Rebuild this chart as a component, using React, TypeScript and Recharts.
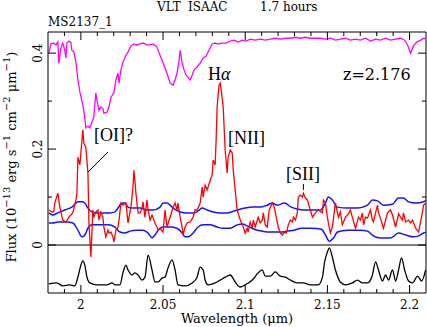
import React from "react";
import { ComposedChart, Line, XAxis, YAxis, ReferenceLine, ReferenceArea } from "recharts";

const W = 427;
const H = 327;
const PLOT_W = 378;
const PLOT_H = 261;
const AXIS_FONT = "'DejaVu Serif', serif";
const LINE_FONT = "'Liberation Serif', serif";

// observed spectrum (red)
const specWave = [
  1.9805, 1.9823, 1.9835, 1.9841, 1.986, 1.9872, 1.989, 1.9909, 1.9927, 1.9951,
  1.997, 1.9976, 1.9982, 1.9994, 2.0, 2.0012, 2.0018, 2.003, 2.0043, 2.0049,
  2.0061, 2.0073, 2.0079, 2.0091, 2.0104, 2.011, 2.0122, 2.0134, 2.014, 2.0152,
  2.0165, 2.0171, 2.0183, 2.0195, 2.0201, 2.0213, 2.0226, 2.0232, 2.0244, 2.0256,
  2.0274, 2.0287, 2.0293, 2.0305, 2.0317, 2.0323, 2.0335, 2.0348, 2.036, 2.0372,
  2.0378, 2.039, 2.0402, 2.0409, 2.0421, 2.0433, 2.0451, 2.0463, 2.047, 2.0482,
  2.05, 2.0512, 2.0524, 2.0543, 2.0561, 2.0573, 2.0585, 2.0591, 2.0604, 2.0616,
  2.0622, 2.0634, 2.0646, 2.0665, 2.0683, 2.0695, 2.0707, 2.0726, 2.0738, 2.0744,
  2.0756, 2.0768, 2.0774, 2.0787, 2.0799, 2.0805, 2.0817, 2.0823, 2.0829, 2.0841,
  2.0848, 2.0854, 2.0866, 2.0878, 2.089, 2.0896, 2.0909, 2.0921, 2.0927, 2.0939,
  2.0951, 2.097, 2.0988, 2.1, 2.1012, 2.1018, 2.103, 2.1043, 2.1049, 2.1061,
  2.1079, 2.1091, 2.1104, 2.111, 2.1122, 2.1134, 2.1146, 2.1159, 2.1165, 2.1177,
  2.1189, 2.1201, 2.1213, 2.1226, 2.1238, 2.125, 2.1262, 2.1274, 2.1287, 2.1293,
  2.1305, 2.1317, 2.1323, 2.1335, 2.1348, 2.1354, 2.1366, 2.1378, 2.1384, 2.1396,
  2.1409, 2.1427, 2.1445, 2.147, 2.1476, 2.1488, 2.15, 2.1506, 2.1518, 2.153,
  2.1549, 2.1567, 2.1579, 2.1591, 2.161, 2.1628, 2.164, 2.1652, 2.1671, 2.1689,
  2.1701, 2.1713, 2.172, 2.1732, 2.1744, 2.1762, 2.1774, 2.178, 2.1793, 2.1805,
  2.1811, 2.1823, 2.1841, 2.1854, 2.1866, 2.1884, 2.1896, 2.1915, 2.1933, 2.1945,
  2.1957, 2.1963, 2.1976, 2.1994, 2.2006, 2.2018, 2.2037, 2.2055, 2.2067, 2.2079,
  2.2085, 2.2098,
];
const specFlux = [
  0.073, 0.069, 0.069, 0.0875, 0.108, 0.079, 0.052, 0.048, 0.058, 0.067,
  0.094, 0.108, 0.183, 0.167, 0.192, 0.24, 0.2125, 0.204, 0.15, 0.046,
  -0.025, 0.073, 0.058, 0.069, 0.073, 0.052, 0.069, 0.058, 0.0375, 0.017,
  0.031, 0.025, 0.027, 0.017, 0.006, 0.031, 0.0375, 0.052, 0.0875, 0.083,
  0.0875, 0.046, 0.058, 0.079, 0.121, 0.156, 0.108, 0.067, 0.067, 0.077,
  0.09, 0.058, 0.094, 0.073, 0.052, 0.0625, 0.046, 0.0375, 0.031, 0.035,
  0.027, 0.073, 0.0375, 0.058, 0.079, 0.0875, 0.073, 0.0875, 0.058, 0.0375,
  0.021, 0.0375, 0.046, 0.048, 0.058, 0.073, 0.073, 0.0875, 0.121, 0.1,
  0.125, 0.115, 0.121, 0.135, 0.146, 0.177, 0.167, 0.219, 0.2875, 0.333,
  0.3375, 0.323, 0.2875, 0.198, 0.15, 0.183, 0.198, 0.192, 0.156, 0.115,
  0.073, 0.052, 0.0375, 0.025, 0.035, 0.027, 0.048, 0.035, 0.052, 0.0375,
  0.058, 0.046, 0.052, 0.067, 0.042, 0.0375, 0.073, 0.083, 0.0875, 0.079,
  0.058, 0.0375, 0.025, 0.021, 0.027, 0.025, 0.042, 0.052, 0.048, 0.058,
  0.052, 0.067, 0.1, 0.104, 0.1, 0.108, 0.098, 0.094, 0.0875, 0.073,
  0.058, 0.067, 0.073, 0.067, 0.094, 0.0875, 0.058, 0.046, 0.025, 0.0375,
  0.0875, 0.058, 0.069, 0.042, 0.058, 0.065, 0.073, 0.058, 0.035, 0.058,
  0.052, 0.067, 0.042, 0.058, 0.056, 0.073, 0.052, 0.048, 0.067, 0.083,
  0.067, 0.056, 0.035, 0.052, 0.067, 0.073, 0.0625, 0.0375, 0.065, 0.058,
  0.052, 0.067, 0.048, 0.052, 0.046, 0.052, 0.035, 0.027, 0.048, 0.069,
  0.083, 0.0875,
];

// atmospheric transmission (magenta, scaled)
const atmWave = [
  1.9805, 1.9817, 1.9835, 1.9848, 1.986, 1.9866, 1.9878, 1.989, 1.9902, 1.9909,
  1.9915, 1.9927, 1.9939, 1.9945, 1.9957, 1.997, 1.9982, 1.9994, 2.0012, 2.0024,
  2.003, 2.0043, 2.0055, 2.0067, 2.0079, 2.0091, 2.0098, 2.011, 2.0122, 2.0134,
  2.014, 2.0159, 2.0171, 2.0183, 2.0201, 2.0213, 2.0226, 2.0232, 2.0244, 2.0256,
  2.0274, 2.0287, 2.0305, 2.0323, 2.0341, 2.036, 2.0378, 2.0402, 2.0421, 2.0439,
  2.0463, 2.0476, 2.0494, 2.0512, 2.0524, 2.0543, 2.0561, 2.0573, 2.0585, 2.0598,
  2.0604, 2.0616, 2.0628, 2.064, 2.0652, 2.0665, 2.0677, 2.0689, 2.0707, 2.0726,
  2.0744, 2.0762, 2.078, 2.0799, 2.0817, 2.0835, 2.086, 2.0884, 2.0909, 2.0933,
  2.0957, 2.0982, 2.1006, 2.103, 2.1061, 2.1091, 2.1122, 2.1152, 2.1183, 2.1213,
  2.1244, 2.1274, 2.1305, 2.1335, 2.1366, 2.1396, 2.1427, 2.1457, 2.1488, 2.1518,
  2.1549, 2.1579, 2.161, 2.164, 2.1671, 2.1701, 2.1732, 2.1762, 2.1793, 2.1823,
  2.1854, 2.1884, 2.1915, 2.1945, 2.197, 2.1988, 2.2006, 2.2024, 2.2043, 2.2067,
  2.2085, 2.2104,
];
const atmFlux = [
  0.4, 0.419, 0.421, 0.417, 0.423, 0.379, 0.41, 0.421, 0.406, 0.39,
  0.421, 0.425, 0.423, 0.406, 0.402, 0.381, 0.344, 0.319, 0.292, 0.265,
  0.244, 0.248, 0.244, 0.256, 0.267, 0.317, 0.302, 0.281, 0.2875, 0.285,
  0.275, 0.277, 0.2875, 0.308, 0.317, 0.344, 0.358, 0.3375, 0.365, 0.381,
  0.396, 0.402, 0.415, 0.419, 0.417, 0.419, 0.421, 0.417, 0.417, 0.419,
  0.4125, 0.4, 0.385, 0.369, 0.358, 0.3375, 0.333, 0.344, 0.358, 0.385,
  0.406, 0.379, 0.365, 0.354, 0.35, 0.344, 0.354, 0.365, 0.371, 0.379,
  0.39, 0.394, 0.406, 0.419, 0.421, 0.419, 0.421, 0.421, 0.425, 0.427,
  0.423, 0.427, 0.425, 0.429, 0.427, 0.429, 0.427, 0.429, 0.431, 0.429,
  0.431, 0.431, 0.433, 0.431, 0.433, 0.431, 0.431, 0.431, 0.429, 0.431,
  0.427, 0.429, 0.431, 0.427, 0.429, 0.427, 0.431, 0.425, 0.429, 0.427,
  0.431, 0.427, 0.429, 0.431, 0.427, 0.417, 0.4, 0.415, 0.423, 0.427,
  0.431, 0.429,
];

// noise envelope (blue)
const errHiWave = [
  1.9805, 1.9829, 1.986, 1.9902, 1.9945, 1.9982, 2.0006, 2.0024, 2.0043, 2.0067,
  2.0098, 2.0134, 2.0177, 2.0207, 2.0226, 2.025, 2.0268, 2.0287, 2.0311, 2.036,
  2.0402, 2.0439, 2.0482, 2.05, 2.0524, 2.0561, 2.0604, 2.0646, 2.0683, 2.0707,
  2.0738, 2.0768, 2.0805, 2.0848, 2.089, 2.0951, 2.1, 2.1049, 2.1091, 2.1134,
  2.1165, 2.1195, 2.1238, 2.128, 2.1317, 2.1354, 2.1402, 2.1457, 2.1488, 2.1506,
  2.153, 2.1561, 2.1622, 2.1683, 2.1744, 2.1774, 2.1805, 2.1841, 2.1896, 2.1933,
  2.1963, 2.1994, 2.2037, 2.2085, 2.2104,
];
const errHiFlux = [
  0.067, 0.0625, 0.067, 0.073, 0.079, 0.09, 0.09, 0.0875, 0.077, 0.069,
  0.067, 0.067, 0.067, 0.069, 0.077, 0.0875, 0.0875, 0.079, 0.077, 0.077,
  0.073, 0.073, 0.079, 0.0875, 0.0875, 0.077, 0.069, 0.067, 0.067, 0.069,
  0.077, 0.073, 0.069, 0.067, 0.067, 0.073, 0.077, 0.079, 0.079, 0.083,
  0.0875, 0.083, 0.0875, 0.079, 0.075, 0.073, 0.073, 0.073, 0.0875, 0.1,
  0.094, 0.079, 0.077, 0.077, 0.083, 0.094, 0.092, 0.083, 0.085, 0.098,
  0.098, 0.09, 0.0875, 0.09, 0.094,
];
const errLoWave = [
  1.9805, 1.9829, 1.986, 1.9915, 1.9951, 1.9982, 2.0006, 2.0024, 2.0043, 2.0067,
  2.0116, 2.0165, 2.0207, 2.0238, 2.0268, 2.0299, 2.0341, 2.0378, 2.0409, 2.0433,
  2.0451, 2.047, 2.05, 2.0543, 2.0585, 2.0616, 2.0634, 2.0652, 2.0683, 2.0713,
  2.0744, 2.0787, 2.0829, 2.0866, 2.0909, 2.0951, 2.0982, 2.1012, 2.1055, 2.1098,
  2.1134, 2.1177, 2.122, 2.1256, 2.1299, 2.1341, 2.1402, 2.1463, 2.1488, 2.1512,
  2.1537, 2.1561, 2.1622, 2.1701, 2.1744, 2.178, 2.1823, 2.1884, 2.1933, 2.1976,
  2.2024, 2.2055, 2.2085, 2.2104,
];
const errLoFlux = [
  0.046, 0.046, 0.048, 0.048, 0.046, 0.031, 0.017, 0.021, 0.035, 0.042,
  0.042, 0.042, 0.0375, 0.027, 0.025, 0.029, 0.031, 0.031, 0.025, 0.015,
  0.021, 0.031, 0.0375, 0.0375, 0.035, 0.025, 0.017, 0.017, 0.025, 0.0375,
  0.042, 0.042, 0.0375, 0.035, 0.035, 0.042, 0.044, 0.04, 0.033, 0.029,
  0.027, 0.027, 0.027, 0.029, 0.031, 0.035, 0.035, 0.033, 0.021, 0.008,
  0.0146, 0.027, 0.031, 0.031, 0.029, 0.019, 0.0146, 0.0146, 0.025, 0.021,
  0.017, 0.019, 0.025, 0.027,
];

// sky spectrum (black, offset below zero)
const skyWave = [
  1.9805, 1.9854, 1.989, 1.9933, 1.9963, 1.9982, 2.0, 2.0012, 2.0024, 2.0037,
  2.0055, 2.0098, 2.0159, 2.0189, 2.0207, 2.0238, 2.0256, 2.0274, 2.0287, 2.0311,
  2.0329, 2.0348, 2.0372, 2.039, 2.0409, 2.0433, 2.0451, 2.047, 2.0494, 2.0512,
  2.053, 2.0555, 2.0573, 2.0591, 2.0634, 2.0677, 2.0707, 2.0726, 2.0744, 2.0756,
  2.0774, 2.0817, 2.0848, 2.0878, 2.0909, 2.0939, 2.097, 2.1, 2.1043, 2.1079,
  2.1104, 2.1122, 2.1152, 2.1183, 2.1213, 2.1244, 2.1274, 2.1317, 2.1354, 2.1396,
  2.1445, 2.147, 2.1482, 2.15, 2.1512, 2.153, 2.1549, 2.1579, 2.161, 2.1652,
  2.1683, 2.1713, 2.1744, 2.1774, 2.1793, 2.1811, 2.1835, 2.1854, 2.1872, 2.1896,
  2.1915, 2.1933, 2.1951, 2.197, 2.1994, 2.2018, 2.2049, 2.2073, 2.2098,
];
const skyFlux = [
  -0.081, -0.079, -0.085, -0.083, -0.085, -0.067, -0.042, -0.033, -0.042, -0.067,
  -0.079, -0.083, -0.083, -0.079, -0.083, -0.083, -0.058, -0.042, -0.052, -0.0625,
  -0.058, -0.0625, -0.073, -0.067, -0.021, -0.052, -0.077, -0.077, -0.069, -0.067,
  -0.048, -0.031, -0.052, -0.083, -0.085, -0.079, -0.067, -0.046, -0.052, -0.073,
  -0.083, -0.079, -0.073, -0.067, -0.0625, -0.077, -0.0875, -0.083, -0.073, -0.058,
  -0.052, -0.065, -0.065, -0.056, -0.065, -0.067, -0.073, -0.079, -0.079, -0.083,
  -0.083, -0.067, -0.0375, -0.0146, -0.006, -0.025, -0.052, -0.077, -0.083, -0.079,
  -0.073, -0.079, -0.079, -0.0625, -0.035, -0.052, -0.075, -0.0625, -0.073, -0.052,
  -0.075, -0.052, -0.027, -0.052, -0.075, -0.079, -0.065, -0.075, -0.052,
];

const xTicks = [
  1.99, 2.0, 2.01, 2.02, 2.03, 2.04, 2.05, 2.06, 2.07, 2.08, 2.09,
  2.1, 2.11, 2.12, 2.13, 2.14, 2.15, 2.16, 2.17, 2.18, 2.19, 2.2,
];
const xMajor = [2.0, 2.05, 2.1, 2.15, 2.2];
const xMajorLabels = ["2", "2.05", "2.1", "2.15", "2.2"];
const yTicks = [0, 0.1, 0.2, 0.3, 0.4];
const yMajor = [0, 0.2, 0.4];
const yMajorLabels = ["0", "0.2", "0.4"];

const zip = (w: number[], f: number[]) => w.map((x, i) => ({ w: x, f: f[i] }));
const specData = zip(specWave, specFlux);
const atmData = zip(atmWave, atmFlux);
const errHiData = zip(errHiWave, errHiFlux);
const errLoData = zip(errLoWave, errLoFlux);
const skyData = zip(skyWave, skyFlux);

const findMajor = (list: number[], v: number) => list.findIndex((m) => Math.abs(m - v) < 1e-6);

function XTick(props: any) {
  const { x, y, payload } = props;
  const idx = findMajor(xMajor, payload.value);
  const len = idx >= 0 ? 8 : 4;
  return (
    <g>
      <line x1={x} y1={y} x2={x} y2={y - len} stroke="#000" strokeWidth={1} />
      <line x1={x} y1={y - PLOT_H} x2={x} y2={y - PLOT_H + len} stroke="#000" strokeWidth={1} />
      {idx >= 0 && (
        <text x={x} y={y + 16} textAnchor="middle" fontFamily={AXIS_FONT} fontSize={12} fill="#000">
          {xMajorLabels[idx]}
        </text>
      )}
    </g>
  );
}

function YTick(props: any) {
  const { x, y, payload } = props;
  const idx = findMajor(yMajor, payload.value);
  const len = idx >= 0 ? 8 : 4;
  return (
    <g>
      <line x1={x} y1={y} x2={x + len} y2={y} stroke="#000" strokeWidth={1} />
      <line x1={x + PLOT_W} y1={y} x2={x + PLOT_W - len} y2={y} stroke="#000" strokeWidth={1} />
      {idx >= 0 && (
        <text
          x={x - 6}
          y={y}
          transform={`rotate(-90 ${x - 6} ${y})`}
          textAnchor="middle"
          fontFamily={AXIS_FONT}
          fontSize={12}
          fill="#000"
        >
          {yMajorLabels[idx]}
        </text>
      )}
    </g>
  );
}

export default function App() {
  return (
    <div style={{ position: "absolute", left: 0, top: 0, width: W, height: H, background: "#fff" }}>
      <ComposedChart width={W} height={H} margin={{ top: 32, right: 1, bottom: 0, left: 0 }}>
        <XAxis
          dataKey="w"
          type="number"
          domain={[1.98, 2.21]}
          allowDataOverflow
          ticks={xTicks}
          interval={0}
          height={34}
          tickSize={0}
          tickMargin={0}
          tickLine={false}
          axisLine={false}
          tick={<XTick />}
        />
        <YAxis
          type="number"
          domain={[-0.1, 0.444]}
          allowDataOverflow
          ticks={yTicks}
          interval={0}
          width={48}
          tickSize={0}
          tickMargin={0}
          tickLine={false}
          axisLine={false}
          tick={<YTick />}
        />
        <ReferenceArea x1={1.98} x2={2.21} y1={-0.1} y2={0.444} fill="none" stroke="#000" strokeWidth={1} />
        <ReferenceLine y={0} stroke="#000" strokeWidth={1} />
        <Line data={atmData} dataKey="f" type="linear" stroke="#ff00ff" strokeWidth={1.3} dot={false} isAnimationActive={false} />
        <Line data={errHiData} dataKey="f" type="monotone" stroke="#1414ff" strokeWidth={1.5} dot={false} isAnimationActive={false} />
        <Line data={errLoData} dataKey="f" type="monotone" stroke="#1414ff" strokeWidth={1.5} dot={false} isAnimationActive={false} />
        <Line data={specData} dataKey="f" type="linear" stroke="#ff0000" strokeWidth={1.3} dot={false} isAnimationActive={false} />
        <Line data={skyData} dataKey="f" type="monotone" stroke="#000" strokeWidth={1.3} dot={false} isAnimationActive={false} />
        <ReferenceLine
          segment={[{ x: 2.0043, y: 0.152 }, { x: 2.0165, y: 0.194 }]}
          stroke="#000"
          strokeWidth={1}
        />
        <ReferenceLine
          segment={[{ x: 2.1354, y: 0.115 }, { x: 2.1354, y: 0.127 }]}
          stroke="#000"
          strokeWidth={1}
        />
      </ComposedChart>
      <svg
        width={W}
        height={H}
        style={{ position: "absolute", left: 0, top: 0, pointerEvents: "none" }}
        fontFamily={AXIS_FONT}
        fill="#000"
      >
        <text x={157} y={10.5} fontSize={12}>VLT</text>
        <text x={188} y={10.5} fontSize={12}>ISAAC</text>
        <text x={260} y={10.5} fontSize={12}>1.7 hours</text>
        <text x={48} y={26} fontSize={12}>MS2137_1</text>
        <text x={237} y={323} fontSize={13} textAnchor="middle">Wavelength (μm)</text>
        <text x={16} y={157} fontSize={13} textAnchor="middle" transform="rotate(-90 16 157)">
          Flux (10<tspan dy={-6} fontSize={10}>−13</tspan>
          <tspan dy={6}> erg s</tspan>
          <tspan dy={-6} fontSize={10}>−1</tspan>
          <tspan dy={6}> cm</tspan>
          <tspan dy={-6} fontSize={10}>−2</tspan>
          <tspan dy={6}> μm</tspan>
          <tspan dy={-6} fontSize={10}>−1</tspan>
          <tspan dy={6}>)</tspan>
        </text>
        <text x={343} y={80} fontSize={16}>z=2.176</text>
        <g fontFamily={LINE_FONT} fontSize={18}>
          <text x={208} y={80}>H<tspan fontStyle="italic">α</tspan></text>
          <text x={228} y={144}>[NII]</text>
          <text x={94} y={141}>[OI]?</text>
          <text x={286} y={180}>[SII]</text>
        </g>
      </svg>
    </div>
  );
}
